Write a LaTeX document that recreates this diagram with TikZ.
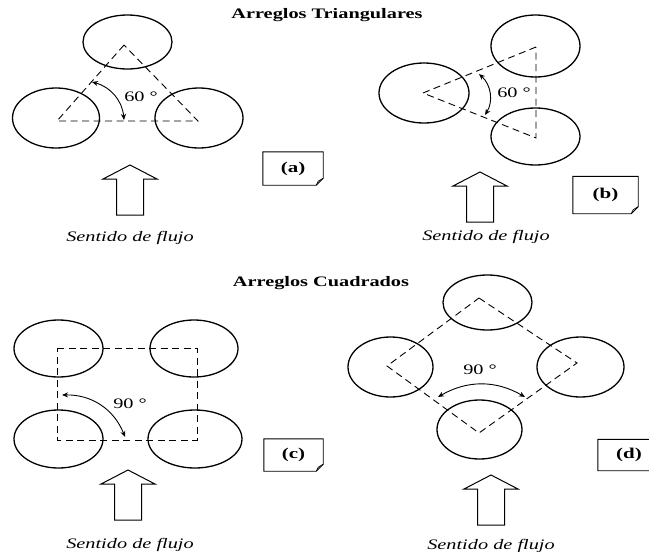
\documentclass[tikz,border=0pt]{standalone}
\usepackage{fontspec}
\setmainfont{Liberation Serif}[FakeStretch=1.4]
\usetikzlibrary{arrows.meta}

% note tag with a folded corner
\newcommand{\dogear}[1]{%
  \draw[line width=0.9pt] (#1.north west) -- (#1.north east) -- ([yshift=7pt]#1.south east)
    -- ([xshift=-7pt]#1.south east) -- (#1.south west) -- cycle;
  \draw[line width=0.7pt] ([yshift=7pt]#1.south east) -- ([shift={(-5pt,4pt)}]#1.south east)
    -- ([xshift=-7pt]#1.south east);}

\begin{document}
\begin{tikzpicture}[x=1pt,y=-1pt,
  tube/.style={line width=1.3pt},
  pitch/.style={line width=0.9pt, dash pattern=on 7pt off 4.5pt},
  angle/.style={line width=0.9pt, {Stealth[length=6pt,width=5pt]}-{Stealth[length=6pt,width=5pt]}},
  title/.style={font=\fontsize{14.5}{16}\selectfont\bfseries},
  deg/.style={font=\fontsize{14.5}{16}\selectfont},
  flujo/.style={font=\fontsize{14.5}{16}\selectfont\itshape},
  tag/.style={font=\fontsize{15}{17}\selectfont\bfseries, inner sep=0pt},
  flowarrow/.pic={\draw[line width=1pt] (0,0) -- (27,14) -- (13.5,14) -- (13.5,50)
    -- (-13.5,50) -- (-13.5,14) -- (-27,14) -- cycle;}]
\useasboundingbox (0,0) rectangle (649,552);

% --- Arreglos Triangulares ---
\node[title] (tri) at (327,15) {Arreglos Triangulares};

% (a)
\coordinate (a1) at (124,45);
\coordinate (a2) at (57,121);
\coordinate (a3) at (198,121);
\draw[tube] (127.5,42) ellipse [x radius=44.5, y radius=27];
\draw[tube] (56,118) ellipse [x radius=43.5, y radius=30];
\draw[tube] (199,118) ellipse [x radius=44, y radius=30];
\draw[pitch] (a1) -- (a2) -- (a3) -- cycle;
\coordinate (a4) at (92,82);
\coordinate (a5) at (124,120);
\draw[angle] (a4) to[bend left=35] (a5);
\node[deg] (ta) at (141,97) {60 °};
\pic at (130,165) {flowarrow};
\node[flujo] (fa) at (130,238) {Sentido de flujo};
\node[tag, minimum width=60pt, minimum height=33pt] (la) at (293,168.5) {(a)};
\dogear{la}

% (b)
\coordinate (b1) at (423,93);
\coordinate (b2) at (536,47);
\coordinate (b3) at (536,138);
\draw[tube] (535.5,46) ellipse [x radius=44.5, y radius=31];
\draw[tube] (424,93) ellipse [x radius=45, y radius=30];
\draw[tube] (535.5,136.5) ellipse [x radius=44.5, y radius=28.5];
\draw[pitch] (b2) -- (b1) -- (b3) -- cycle;
\coordinate (b4) at (479,74);
\coordinate (b5) at (485,115);
\draw[angle] (b4) to[bend left=40] (b5);
\node[deg] (tb) at (514,93) {60 °};
\pic at (480,172) {flowarrow};
\node[flujo] (fb) at (486,237) {Sentido de flujo};
\node[tag, minimum width=65pt, minimum height=37pt] (lb) at (605.5,195) {(b)};
\dogear{lb}

% --- Arreglos Cuadrados ---
\node[title] (cua) at (321,283) {Arreglos Cuadrados};

% (c)
\coordinate (c1) at (57,348);
\coordinate (c2) at (197,348);
\coordinate (c3) at (197,440);
\coordinate (c4) at (57,440);
\draw[tube] (58.5,348.5) ellipse [x radius=44.5, y radius=28.5];
\draw[tube] (194,348.5) ellipse [x radius=44, y radius=28.5];
\draw[tube] (58.5,439) ellipse [x radius=44.5, y radius=29];
\draw[tube] (195,439) ellipse [x radius=47, y radius=29];
\draw[pitch] (c1) -- (c2) -- (c3) -- (c4) -- cycle;
\coordinate (c5) at (62,395);
\coordinate (c6) at (125,437);
\draw[angle] (c5) to[bend left=35] (c6);
\node[deg] (tc) at (130,404) {90 °};
\pic at (128,470) {flowarrow};
\node[flujo] (fc) at (130,545) {Sentido de flujo};
\node[tag, minimum width=59pt, minimum height=32pt] (lc) at (293.5,455) {(c)};
\dogear{lc}

% (d)
\coordinate (d1) at (479,298);
\coordinate (d2) at (577,363);
\coordinate (d3) at (479,433);
\coordinate (d4) at (387,366);
\draw[tube] (487.5,302.5) ellipse [x radius=44.5, y radius=27.5];
\draw[tube] (390.5,367) ellipse [x radius=42.5, y radius=30];
\draw[tube] (580.5,367) ellipse [x radius=43.5, y radius=30];
\draw[tube] (479.5,429.5) ellipse [x radius=42.5, y radius=29.5];
\draw[pitch] (d1) -- (d2) -- (d3) -- (d4) -- cycle;
\coordinate (d5) at (438,397);
\coordinate (d6) at (525,397);
\draw[angle] (d5) to[bend left=30] (d6);
\node[deg] (td) at (480,370) {90 °};
\pic at (491,475) {flowarrow};
\node[flujo] (fd) at (491,546) {Sentido de flujo};
\node[tag, minimum width=62pt, minimum height=31pt] (ld) at (629,455) {(d)};
\dogear{ld}
\end{tikzpicture}
\end{document}
